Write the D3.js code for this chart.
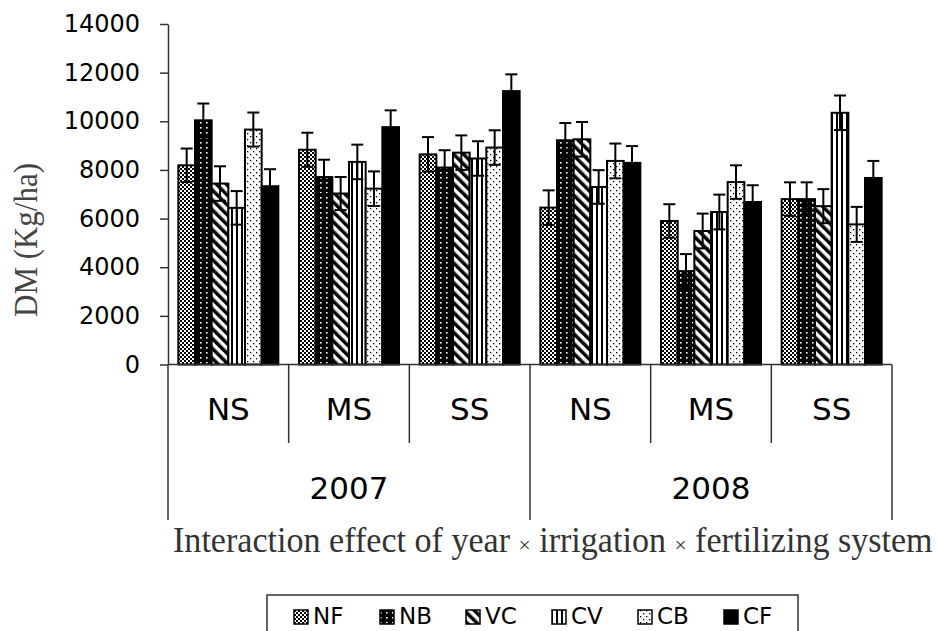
<!DOCTYPE html>
<html>
<head>
<meta charset="utf-8">
<script src="https://cdn.jsdelivr.net/npm/d3@7"></script>
<style>
  body { margin: 0; background: #fff; }
  svg { display: block; }
</style>
</head>
<body>
<div id="chart"></div>
<script>
// categories
const years = ['2007', '2008'];
const irrigation = ['NS', 'MS', 'SS'];
const series = ['NF', 'NB', 'VC', 'CV', 'CB', 'CF'];
const yTicks = [0, 2000, 4000, 6000, 8000, 10000, 12000, 14000];

// DM (kg/ha), order: 2007 NS, MS, SS, 2008 NS, MS, SS
const nfValues = [8190, 8830, 8640, 6450, 5900, 6800];
const nbValues = [10040, 7710, 8100, 9220, 3840, 6800];
const vcValues = [7440, 7030, 8710, 9260, 5490, 6510];
const cvValues = [6440, 8330, 8470, 7300, 6270, 10350];
const cbValues = [9660, 7230, 8920, 8370, 7500, 5760];
const cfValues = [7330, 9760, 11240, 8290, 6680, 7670];

// error bar half-lengths
const nfErrors = [690, 700, 710, 710, 690, 690];
const nbErrors = [690, 710, 710, 710, 700, 690];
const vcErrors = [710, 680, 710, 710, 715, 700];
const cvErrors = [690, 710, 710, 690, 715, 710];
const cbErrors = [700, 710, 710, 715, 690, 720];
const cfErrors = [700, 690, 690, 690, 690, 700];

const valuesBySeries = [nfValues, nbValues, vcValues, cvValues, cbValues, cfValues];
const errorsBySeries = [nfErrors, nbErrors, vcErrors, cvErrors, cbErrors, cfErrors];

const groups = [];
years.forEach(yr => irrigation.forEach(ir => groups.push({ year: yr, irr: ir, key: yr + '|' + ir })));

const rows = [];
groups.forEach((g, gi) => {
  series.forEach((s, si) => {
    rows.push({ group: g.key, series: s, value: valuesBySeries[si][gi], err: errorsBySeries[si][gi] });
  });
});

const width = 939;
const height = 631;
const plotLeft = 168, plotRight = 892, plotTop = 24, plotBase = 364.5;

const svg = d3.select('#chart').append('svg')
  .attr('width', width)
  .attr('height', height);

// fill patterns (black & white, like the original)
const defs = svg.append('defs');

const pNF = defs.append('pattern').attr('id', 'p-NF')
  .attr('patternUnits', 'userSpaceOnUse').attr('width', 4).attr('height', 4);
pNF.append('rect').attr('width', 4).attr('height', 4).attr('fill', '#fff');
pNF.append('rect').attr('x', 0).attr('y', 0).attr('width', 2).attr('height', 2).attr('fill', '#000');
pNF.append('rect').attr('x', 2).attr('y', 2).attr('width', 2).attr('height', 2).attr('fill', '#000');

const pNB = defs.append('pattern').attr('id', 'p-NB')
  .attr('patternUnits', 'userSpaceOnUse').attr('width', 6).attr('height', 5);
pNB.append('rect').attr('width', 6).attr('height', 5).attr('fill', '#000');
pNB.append('rect').attr('x', 2).attr('y', 2).attr('width', 1.6).attr('height', 1.6).attr('fill', '#fff');

const pVC = defs.append('pattern').attr('id', 'p-VC')
  .attr('patternUnits', 'userSpaceOnUse').attr('width', 7).attr('height', 7)
  .attr('patternTransform', 'rotate(-45)');
pVC.append('rect').attr('width', 7).attr('height', 7).attr('fill', '#fff');
pVC.append('rect').attr('width', 3.5).attr('height', 7).attr('fill', '#000');

const pCV = defs.append('pattern').attr('id', 'p-CV')
  .attr('patternUnits', 'userSpaceOnUse').attr('width', 5).attr('height', 5);
pCV.append('rect').attr('width', 5).attr('height', 5).attr('fill', '#fff');
pCV.append('rect').attr('x', 1).attr('width', 2).attr('height', 5).attr('fill', '#000');

const pCB = defs.append('pattern').attr('id', 'p-CB')
  .attr('patternUnits', 'userSpaceOnUse').attr('width', 6).attr('height', 6);
pCB.append('rect').attr('width', 6).attr('height', 6).attr('fill', '#fff');
pCB.append('rect').attr('x', 1).attr('y', 1).attr('width', 1.3).attr('height', 1.3).attr('fill', '#000');
pCB.append('rect').attr('x', 4).attr('y', 4).attr('width', 1.3).attr('height', 1.3).attr('fill', '#000');

const fills = { NF: 'url(#p-NF)', NB: 'url(#p-NB)', VC: 'url(#p-VC)', CV: 'url(#p-CV)', CB: 'url(#p-CB)', CF: '#000' };

// scales
const x0 = d3.scaleBand()
  .domain(groups.map(g => g.key))
  .range([plotLeft, plotRight])
  .padding(0);

const x1 = d3.scaleBand()
  .domain(series)
  .range([0, x0.bandwidth()])
  .paddingInner(0)
  .paddingOuter(0.62);

const y = d3.scaleLinear()
  .domain([0, 14000])
  .range([plotBase, plotTop]);

// y axis
const yAxis = svg.append('g')
  .attr('transform', `translate(${plotLeft},0)`)
  .call(d3.axisLeft(y).tickValues(yTicks).tickSize(8).tickSizeOuter(0).tickPadding(20).tickFormat(d3.format('d')));
yAxis.select('.domain').attr('stroke', '#333').attr('stroke-width', 1.5);
yAxis.selectAll('.tick line').attr('stroke', '#333').attr('stroke-width', 1.5);
yAxis.selectAll('.tick text')
  .attr('font-family', '"DejaVu Sans", sans-serif')
  .attr('font-size', 24)
  .attr('fill', '#000');

// bars
const barG = svg.append('g');
barG.selectAll('rect.bar')
  .data(rows)
  .enter()
  .append('rect')
  .attr('class', 'bar')
  .attr('x', d => x0(d.group) + x1(d.series))
  .attr('y', d => y(d.value))
  .attr('width', x1.bandwidth())
  .attr('height', d => y(0) - y(d.value))
  .attr('fill', d => fills[d.series])
  .attr('stroke', '#000')
  .attr('stroke-width', 2);

// error bars (both directions, lower half drawn over the bar)
const capW = 12;
const errG = svg.append('g').attr('stroke', '#000').attr('stroke-width', 2);
rows.forEach(d => {
  const cx = x0(d.group) + x1(d.series) + x1.bandwidth() / 2;
  errG.append('line').attr('x1', cx).attr('x2', cx).attr('y1', y(d.value + d.err)).attr('y2', y(d.value - d.err));
  errG.append('line').attr('x1', cx - capW / 2).attr('x2', cx + capW / 2).attr('y1', y(d.value + d.err)).attr('y2', y(d.value + d.err));
  errG.append('line').attr('x1', cx - capW / 2).attr('x2', cx + capW / 2).attr('y1', y(d.value - d.err)).attr('y2', y(d.value - d.err));
});

// category axis (two levels)
const axG = svg.append('g').attr('stroke', '#333').attr('stroke-width', 1.5);
axG.append('line').attr('x1', plotLeft).attr('x2', plotRight).attr('y1', plotBase).attr('y2', plotBase);
const edges = groups.map(g => x0(g.key)).concat([x0(groups[groups.length - 1].key) + x0.bandwidth()]);
edges.forEach((ex, i) => {
  axG.append('line')
    .attr('x1', ex).attr('x2', ex)
    .attr('y1', plotBase)
    .attr('y2', i % irrigation.length === 0 ? 520 : 443);
});

svg.selectAll('text.irr')
  .data(groups)
  .enter()
  .append('text')
  .attr('class', 'irr')
  .attr('x', g => x0(g.key) + x0.bandwidth() / 2)
  .attr('y', 420)
  .attr('text-anchor', 'middle')
  .attr('font-family', '"DejaVu Sans", sans-serif')
  .attr('font-size', 31)
  .text(g => g.irr);

svg.selectAll('text.year')
  .data(years)
  .enter()
  .append('text')
  .attr('class', 'year')
  .attr('x', yr => {
    const first = x0(yr + '|' + irrigation[0]);
    const last = x0(yr + '|' + irrigation[irrigation.length - 1]) + x0.bandwidth();
    return (first + last) / 2;
  })
  .attr('y', 499)
  .attr('text-anchor', 'middle')
  .attr('font-family', '"DejaVu Sans", sans-serif')
  .attr('font-size', 31)
  .text(yr => yr);

// axis titles: condensed serif, squeezed to the reference width
const yTitle = svg.append('text')
  .attr('text-anchor', 'middle')
  .attr('font-family', '"Liberation Serif", serif')
  .attr('font-size', 33)
  .attr('fill', '#444')
  .text('DM (Kg/ha)');
const yScaleX = 154 / yTitle.node().getComputedTextLength();
yTitle.attr('transform', `translate(37,240) rotate(-90) scale(${yScaleX},1)`);

const xTitle = svg.append('text')
  .attr('font-family', '"Liberation Serif", serif')
  .attr('font-size', 35)
  .attr('fill', '#333');
xTitle.append('tspan').text('Interaction effect of year ');
xTitle.append('tspan').attr('font-size', 22).text('×');
xTitle.append('tspan').text(' irrigation ');
xTitle.append('tspan').attr('font-size', 22).text('×');
xTitle.append('tspan').text(' fertilizing system');
const xScaleX = 760 / xTitle.node().getComputedTextLength();
xTitle.attr('transform', `translate(173,552) scale(${xScaleX},1)`);

// legend (box runs past the bottom edge, as in the reference)
const legendG = svg.append('g');
legendG.append('rect')
  .attr('x', 267).attr('y', 595)
  .attr('width', 531).attr('height', 60)
  .attr('fill', 'none')
  .attr('stroke', '#333')
  .attr('stroke-width', 1.5);

const legendStep = 86;
legendG.selectAll('.legend-swatch')
  .data(series)
  .enter()
  .append('rect')
  .attr('class', 'legend-swatch')
  .attr('x', (d, i) => 294 + i * legendStep)
  .attr('y', 610)
  .attr('width', 14)
  .attr('height', 14)
  .attr('fill', d => fills[d])
  .attr('stroke', '#000')
  .attr('stroke-width', 1.5);

legendG.selectAll('.legend-label')
  .data(series)
  .enter()
  .append('text')
  .attr('class', 'legend-label')
  .attr('x', (d, i) => 313 + i * legendStep)
  .attr('y', 624)
  .attr('font-family', '"DejaVu Sans", sans-serif')
  .attr('font-size', 23)
  .text(d => d);
</script>
</body>
</html>
